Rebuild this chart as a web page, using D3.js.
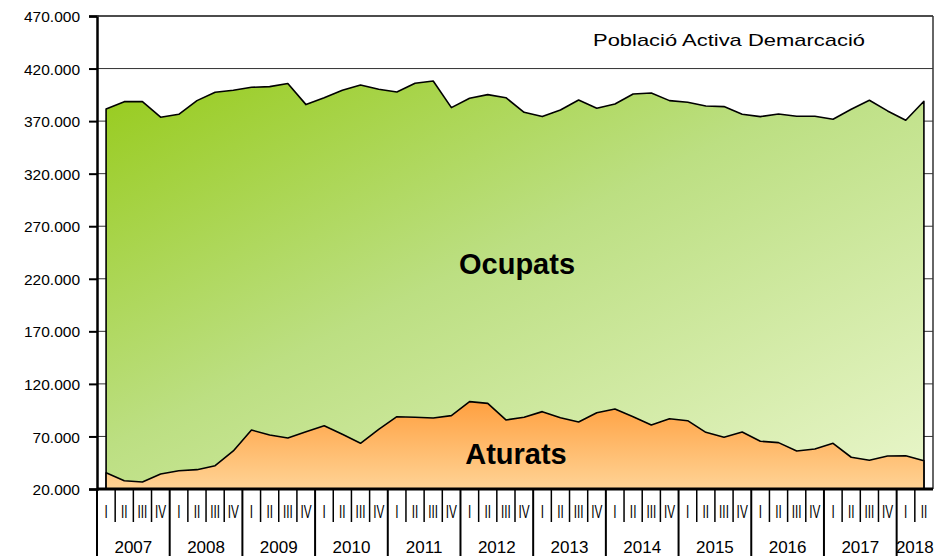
<!DOCTYPE html>
<html>
<head>
<meta charset="utf-8">
<script src="https://cdn.jsdelivr.net/npm/d3@7"></script>
<style>
  body { margin: 0; background: #fff; }
  text { font-family: "Liberation Sans", Arial, sans-serif; fill: #000; }
</style>
</head>
<body>
<div id="vis"></div>
<script>
// years and quarter labels shown on the x axis
var years = ["2007", "2008", "2009", "2010", "2011", "2012", "2013", "2014", "2015", "2016", "2017", "2018"];
var quarters = ["I", "II", "III", "IV"];

// població activa (top of the green area), quarter by quarter, 2007 I .. 2018 II
var actius = [
  381600, 388500, 388500, 373700, 376500, 389500, 397500, 399400,
  402200, 402800, 405700, 385700, 392300, 399400, 404400, 400300,
  397700, 406000, 408200, 382800, 391800, 395200, 392300, 378400,
  374300, 380600, 390100, 382200, 386300, 395800, 396800, 389500,
  387900, 384400, 383800, 376500, 374300, 376800, 374600, 374600,
  371800, 381300, 389800, 379700, 370800, 388900
];

// aturats
var aturats = [
  35500, 27900, 26700, 34300, 37400, 38400, 42200, 56200,
  76100, 71400, 68500, 74500, 80200, 72000, 63500, 76800,
  88800, 88200, 87600, 89800, 103100, 101500, 85700, 88200,
  93600, 87800, 83800, 92600, 96100, 88800, 80900, 86900,
  85000, 73900, 69200, 74200, 65400, 64100, 56200, 58100,
  63500, 50200, 47300, 51400, 51700, 46900
];

var yTicks = d3.range(20000, 470001, 50000);

var W = 935, H = 556;
var margin = { top: 16, left: 97, right: 2, bottom: 67 };
var plotW = W - margin.left - margin.right;
var plotH = H - margin.top - margin.bottom;

// one category per quarter
var cats = [];
years.forEach(function (yr) {
  quarters.forEach(function (q) { cats.push({ year: yr, q: q }); });
});
cats = cats.slice(0, actius.length);

var svg = d3.select("#vis").append("svg")
  .attr("width", W).attr("height", H);

var defs = svg.append("defs");
var gGreen = defs.append("linearGradient").attr("id", "green")
  .attr("x1", 0).attr("y1", 0).attr("x2", 1).attr("y2", 1);
gGreen.append("stop").attr("offset", "0%").attr("stop-color", "#97cb1c");
gGreen.append("stop").attr("offset", "45%").attr("stop-color", "#bcdf82");
gGreen.append("stop").attr("offset", "100%").attr("stop-color", "#e9f6cb");

var gOrange = defs.append("linearGradient").attr("id", "orange")
  .attr("x1", 0).attr("y1", 0).attr("x2", 0).attr("y2", 1);
gOrange.append("stop").attr("offset", "0%").attr("stop-color", "#ffa040");
gOrange.append("stop").attr("offset", "100%").attr("stop-color", "#ffd395");

var g = svg.append("g")
  .attr("transform", "translate(" + margin.left + "," + margin.top + ")");

var x = d3.scaleBand().domain(d3.range(cats.length)).range([0, plotW]);
var y = d3.scaleLinear().domain([20000, 470000]).range([plotH, 0]);
var cx = function (i) { return x(i) + x.bandwidth() / 2; };

// gridlines
g.selectAll(".grid").data(yTicks).enter().append("line")
  .attr("class", "grid")
  .attr("x1", 0).attr("x2", plotW)
  .attr("y1", function (d) { return y(d); })
  .attr("y2", function (d) { return y(d); })
  .attr("stroke", "#333").attr("stroke-width", 1);

// right border
g.append("line")
  .attr("x1", plotW).attr("x2", plotW).attr("y1", 0).attr("y2", plotH)
  .attr("stroke", "#333").attr("stroke-width", 1.5);

// areas
var areaTop = d3.area()
  .x(function (d, i) { return cx(i); })
  .y0(plotH)
  .y1(function (d) { return y(d); });

g.append("path").datum(actius)
  .attr("d", areaTop)
  .attr("fill", "url(#green)")
  .attr("stroke", "#000").attr("stroke-width", 1.6)
  .attr("stroke-linejoin", "round");

g.append("path").datum(aturats)
  .attr("d", areaTop)
  .attr("fill", "url(#orange)")
  .attr("stroke", "#000").attr("stroke-width", 1.6)
  .attr("stroke-linejoin", "round");

// y axis
var yAxis = d3.axisLeft(y).tickValues(yTicks).tickSize(8).tickPadding(8)
  .tickFormat(function (d) { return d3.format(",")(d).replace(/,/g, "."); });
var ya = g.append("g").call(yAxis);
ya.select(".domain").attr("stroke", "#000").attr("stroke-width", 2.5);
ya.selectAll(".tick line").attr("stroke", "#000").attr("stroke-width", 2);
ya.selectAll(".tick text")
  .style("font-size", "15.5px")
  .attr("dy", "0.36em")
  .attr("x", -17);

// x axis baseline
g.append("line")
  .attr("x1", 0).attr("x2", plotW).attr("y1", plotH).attr("y2", plotH)
  .attr("stroke", "#000").attr("stroke-width", 3);

// quarter tick marks at band edges, year separators longer
var xa = g.append("g").attr("transform", "translate(0," + plotH + ")");
xa.selectAll(".qtick").data(cats).enter().append("line")
  .attr("class", "qtick")
  .attr("x1", function (d, i) { return x(i); })
  .attr("x2", function (d, i) { return x(i); })
  .attr("y1", 0)
  .attr("y2", function (d) { return d.q === "I" ? plotH + 100 : 33; })
  .attr("stroke", "#000")
  .attr("stroke-width", function (d) { return d.q === "I" ? 2 : 1.5; });

// narrow quarter labels (squeezed horizontally like the original)
xa.selectAll(".qlabel").data(cats).enter().append("text")
  .attr("class", "qlabel")
  .attr("transform", function (d, i) {
    return "translate(" + cx(i) + ",29) scale(0.62,1)";
  })
  .attr("text-anchor", "middle")
  .style("font-size", "19px")
  .text(function (d) { return d.q; });

xa.selectAll(".ylabel").data(years).enter().append("text")
  .attr("class", "ylabel")
  .attr("x", function (yr) {
    var idx = cats.map(function (c, i) { return c.year === yr ? i : -1; })
      .filter(function (i) { return i >= 0; });
    var a = x(idx[0]), b = x(idx[idx.length - 1]) + x.bandwidth();
    return (a + b) / 2;
  })
  .attr("y", 64)
  .attr("text-anchor", "middle")
  .style("font-size", "17px")
  .text(function (d) { return d; });

// top border
g.append("line")
  .attr("x1", 0).attr("x2", plotW).attr("y1", 0).attr("y2", 0)
  .attr("stroke", "#333").attr("stroke-width", 1.5);

// labels
g.append("text")
  .attr("x", 496).attr("y", 30)
  .style("font-size", "17px")
  .attr("textLength", 272).attr("lengthAdjust", "spacingAndGlyphs")
  .text("Població Activa Demarcació");

g.append("text")
  .attr("x", 420).attr("y", 258)
  .attr("text-anchor", "middle")
  .style("font-size", "29px").style("font-weight", "bold")
  .text("Ocupats");

g.append("text")
  .attr("x", 419).attr("y", 448)
  .attr("text-anchor", "middle")
  .style("font-size", "29px").style("font-weight", "bold")
  .text("Aturats");
</script>
</body>
</html>
